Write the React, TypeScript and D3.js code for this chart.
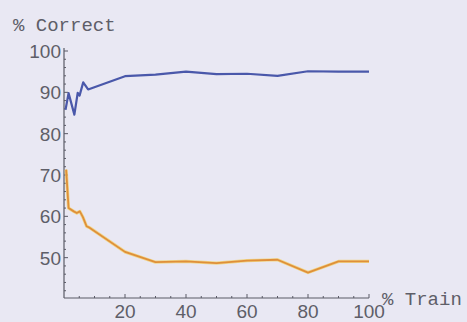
import React from "react";
import * as d3 from "d3";

const blueX = [0.5, 1.5, 3.4, 4.5, 5.1, 6.3, 7.9, 20, 30, 40, 50, 60, 70, 80, 90, 100];
const blueY = [85.8, 89.8, 84.6, 89.9, 89.2, 92.4, 90.7, 93.9, 94.3, 95.0, 94.4, 94.5, 94.0, 95.1, 95.0, 95.0];
const orangeX = [0.7, 1.5, 3.2, 4.2, 5.2, 6.2, 7.4, 8.5, 20, 30, 40, 50, 60, 70, 80, 90, 100];
const orangeY = [71.3, 62.0, 61.2, 60.8, 61.2, 59.8, 57.6, 57.2, 51.4, 48.9, 49.1, 48.7, 49.3, 49.5, 46.4, 49.1, 49.1];
const xTicks = [20, 40, 60, 80, 100];
const yTicks = [50, 60, 70, 80, 90, 100];
const yLabel = "% Correct";
const xLabel = "% Train";

export default function App() {
  const W = 467, H = 322;
  const x = d3.scaleLinear().domain([0, 100]).range([64, 369]);
  const y = d3.scaleLinear().domain([40, 100]).range([299, 51]);
  const line = d3.line<[number, number]>().x(d => x(d[0])).y(d => y(d[1]));
  const blue = blueX.map((v, i) => [v, blueY[i]] as [number, number]);
  const orange = orangeX.map((v, i) => [v, orangeY[i]] as [number, number]);
  const axisColor = "#5a5a66";
  const textColor = "#5e5e68";
  const xMinor = d3.range(5, 101, 5).filter(v => v % 20 !== 0);
  const yMinor = d3.range(42, 101, 2).filter(v => v % 10 !== 0);
  const x0 = x(0), yBase = 298;
  return (
    <svg width={W} height={H} style={{ position: "absolute", left: 0, top: 0, display: "block" }}>
      <rect x={0} y={0} width={W} height={H} fill="#e9e8f3" />
      <line x1={x0} y1={yBase} x2={x(100)} y2={yBase} stroke={axisColor} strokeWidth={1.2} />
      <line x1={x0} y1={yBase} x2={x0} y2={48} stroke={axisColor} strokeWidth={1.2} />
      {xTicks.map(t => (
        <g key={"xt" + t}>
          <line x1={x(t)} x2={x(t)} y1={yBase} y2={yBase - 4} stroke={axisColor} strokeWidth={1} />
          <text x={x(t)} y={318} textAnchor="middle" fontFamily="Liberation Sans, Arial, sans-serif" fontSize={19} fill={textColor}>{t}</text>
        </g>
      ))}
      {xMinor.map(t => (
        <line key={"xm" + t} x1={x(t)} x2={x(t)} y1={yBase} y2={yBase - 2} stroke={axisColor} strokeWidth={1} />
      ))}
      {yTicks.map(t => (
        <g key={"yt" + t}>
          <line x1={x0} x2={x0 + 4} y1={y(t)} y2={y(t)} stroke={axisColor} strokeWidth={1} />
          <text x={61} y={y(t) + 7} textAnchor="end" fontFamily="Liberation Sans, Arial, sans-serif" fontSize={19} fill={textColor}>{t}</text>
        </g>
      ))}
      {yMinor.map(t => (
        <line key={"ym" + t} x1={x0} x2={x0 + 2} y1={y(t)} y2={y(t)} stroke={axisColor} strokeWidth={1} />
      ))}
      <path d={line(orange) || ""} fill="none" stroke="#f3cf5a" strokeWidth={3.2} strokeLinejoin="round" opacity={0.7} />
      <path d={line(orange) || ""} fill="none" stroke="#df8f3a" strokeWidth={1.8} strokeLinejoin="round" />
      <path d={line(blue) || ""} fill="none" stroke="#4a58aa" strokeWidth={2.2} strokeLinejoin="round" />
      <text x={13} y={31} fontFamily="Liberation Mono, Courier New, monospace" fontSize={19} fill={textColor}>{yLabel}</text>
      <text x={382} y={305} fontFamily="Liberation Mono, Courier New, monospace" fontSize={19} fill={textColor}>{xLabel}</text>
    </svg>
  );
}
